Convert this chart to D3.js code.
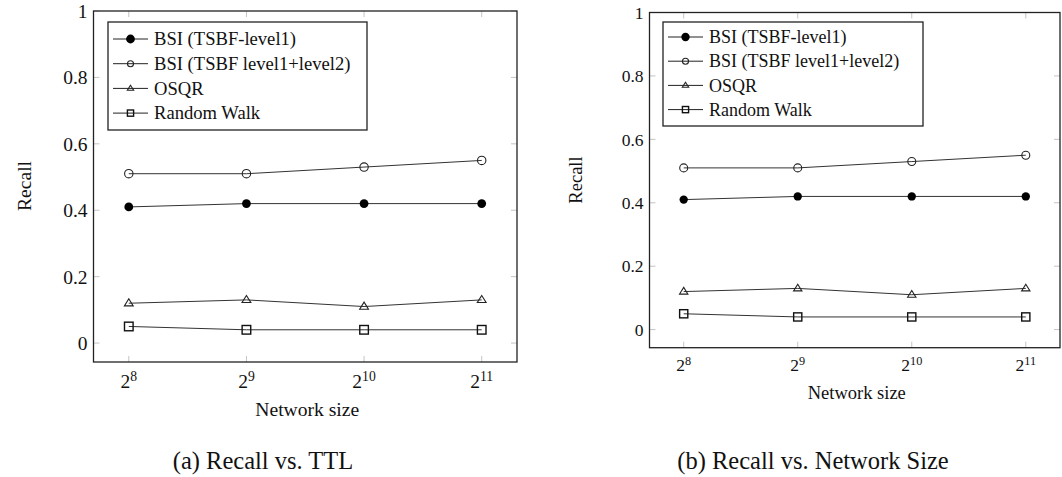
<!DOCTYPE html>
<html>
<head>
<meta charset="utf-8">
<script src="https://cdn.jsdelivr.net/npm/d3@7"></script>
<style>
  body { margin: 0; background: #fff; }
</style>
</head>
<body>
<div id="chart"></div>
<script>
// network sizes as powers of two
const exponents = [8, 9, 10, 11]
const yTicks = [0, 0.2, 0.4, 0.6, 0.8, 1]

const seriesNames = ["BSI (TSBF-level1)", "BSI (TSBF level1+level2)", "OSQR", "Random Walk"]
const bsiLevel1 = [0.41, 0.42, 0.42, 0.42]
const bsiLevel12 = [0.51, 0.51, 0.53, 0.55]
const osqr = [0.12, 0.13, 0.11, 0.13]
const randomWalk = [0.05, 0.04, 0.04, 0.04]
const markers = ["dot", "circle", "triangle", "square"]

const captions = ["(a) Recall vs. TTL", "(b) Recall vs. Network Size"]

const allSeries = [bsiLevel1, bsiLevel12, osqr, randomWalk]

let svg = d3.select("#chart")
            .append("svg")
            .attr("width", 1062)
            .attr("height", 477)
            .style("font-family", "'Liberation Serif', 'DejaVu Serif', serif")

// open marks are not filled, so the line shows through (like pgfplots)
function drawMarker(g, type, cx, cy, k) {
  if (type == "dot") {
    g.append("circle").attr("cx", cx).attr("cy", cy).attr("r", 4.4 * k)
     .attr("fill", "#000")
  } else if (type == "circle") {
    g.append("circle").attr("cx", cx).attr("cy", cy).attr("r", 4.2 * k)
     .attr("fill", "none").attr("stroke", "#222").attr("stroke-width", 1.1)
  } else if (type == "triangle") {
    let s = 4.4 * k
    g.append("path")
     .attr("d", "M" + cx + "," + (cy - s) + "L" + (cx + s) + "," + (cy + s * 0.6) + "L" + (cx - s) + "," + (cy + s * 0.6) + "Z")
     .attr("fill", "none").attr("stroke", "#222").attr("stroke-width", 1.1)
  } else {
    let s = 4.3 * k
    g.append("rect").attr("x", cx - s).attr("y", cy - s).attr("width", 2 * s).attr("height", 2 * s)
     .attr("fill", "none").attr("stroke", "#111").attr("stroke-width", 1.4)
  }
}

function drawChart(opt) {
  let g = svg.append("g")

  let x = d3.scaleLinear().domain([7.7, 11.3]).range([opt.left, opt.right])
  let y = d3.scaleLinear().domain([-0.057, 1]).range([opt.bottom, opt.top])

  // light tick marks, inside, on all four sides
  let tickG = g.append("g").attr("stroke", "#c4c4c4").attr("stroke-width", 1)
  yTicks.forEach(function(t) {
    tickG.append("line").attr("x1", opt.left).attr("x2", opt.left + 6).attr("y1", y(t)).attr("y2", y(t))
    tickG.append("line").attr("x1", opt.right).attr("x2", opt.right - 6).attr("y1", y(t)).attr("y2", y(t))
  })
  exponents.forEach(function(e) {
    tickG.append("line").attr("x1", x(e)).attr("x2", x(e)).attr("y1", opt.bottom).attr("y2", opt.bottom - 6)
    tickG.append("line").attr("x1", x(e)).attr("x2", x(e)).attr("y1", opt.top).attr("y2", opt.top + 6)
  })

  g.append("rect")
   .attr("x", opt.left).attr("y", opt.top)
   .attr("width", opt.right - opt.left).attr("height", opt.bottom - opt.top)
   .attr("fill", "none").attr("stroke", "#222").attr("stroke-width", 1.3)

  // y tick labels
  g.selectAll(".ylab").data(yTicks).enter().append("text")
   .attr("x", opt.left - 6).attr("y", function(d) { return y(d) })
   .attr("dy", "0.36em").attr("text-anchor", "end")
   .attr("font-size", opt.tickFs).attr("fill", "#111")
   .text(function(d) { return d3.format("~g")(d) })

  // x tick labels 2^n
  exponents.forEach(function(e) {
    let t = g.append("text")
             .attr("x", x(e)).attr("y", opt.bottom + opt.xlabOff)
             .attr("text-anchor", "middle").attr("font-size", opt.tickFs).attr("fill", "#111")
    t.append("tspan").text("2")
    t.append("tspan").attr("dy", "-0.5em").attr("font-size", opt.tickFs * 0.7).text(e)
  })

  g.append("text")
   .attr("x", (opt.left + opt.right) / 2 + 2).attr("y", opt.xTitleY)
   .attr("text-anchor", "middle").attr("font-size", opt.titleFs).attr("fill", "#111")
   .text("Network size")

  g.append("text")
   .attr("transform", "translate(" + opt.yTitleX + "," + opt.yTitleY + ") rotate(-90)")
   .attr("text-anchor", "middle").attr("font-size", opt.titleFs).attr("fill", "#111")
   .text("Recall")

  // series
  let line = d3.line()
               .x(function(d, i) { return x(exponents[i]) })
               .y(function(d) { return y(d) })
  allSeries.forEach(function(s, k) {
    g.append("path").datum(s)
     .attr("fill", "none").attr("stroke", "#333").attr("stroke-width", 1)
     .attr("d", line)
    s.forEach(function(v, i) { drawMarker(g, markers[k], x(exponents[i]), y(v), opt.mk) })
  })

  // legend
  let lg = g.append("g")
  lg.append("rect")
    .attr("x", opt.lgX).attr("y", opt.lgY).attr("width", opt.lgW).attr("height", opt.lgH)
    .attr("fill", "#fff").attr("stroke", "#222").attr("stroke-width", 1.3)
  seriesNames.forEach(function(name, k) {
    let cy = opt.lgY + opt.lgRow0 + k * opt.lgStep
    lg.append("line")
      .attr("x1", opt.lgX + 5).attr("x2", opt.lgX + 40).attr("y1", cy).attr("y2", cy)
      .attr("stroke", "#222").attr("stroke-width", 1)
    drawMarker(lg, markers[k], opt.lgX + 22.5, cy, k == 0 ? opt.mk : 0.72)
    lg.append("text")
      .attr("x", opt.lgX + 46).attr("y", cy).attr("dy", "0.34em")
      .attr("font-size", opt.lgFs).attr("fill", "#111")
      .text(name)
  })

  g.append("text")
   .attr("x", opt.capX).attr("y", 469)
   .attr("text-anchor", "middle").attr("font-size", 24.5).attr("fill", "#111")
   .text(opt.caption)
}

drawChart({left: 93.5, right: 517, top: 11, bottom: 362, tickFs: 19.5, lgFs: 18.6, titleFs: 19.6,
           xlabOff: 26, mk: 1,
           xTitleY: 416, yTitleX: 31, yTitleY: 186,
           lgX: 108, lgY: 22, lgW: 259, lgH: 108, lgRow0: 17, lgStep: 24.7,
           capX: 263, caption: captions[0]})

drawChart({left: 649.5, right: 1060, top: 12.5, bottom: 347.7, tickFs: 17.5, lgFs: 18, titleFs: 18.5,
           xlabOff: 23.5, mk: 0.95,
           xTitleY: 399, yTitleX: 582, yTitleY: 180,
           lgX: 663, lgY: 22, lgW: 260, lgH: 104, lgRow0: 15, lgStep: 24.2,
           capX: 813, caption: captions[1]})
</script>
</body>
</html>
